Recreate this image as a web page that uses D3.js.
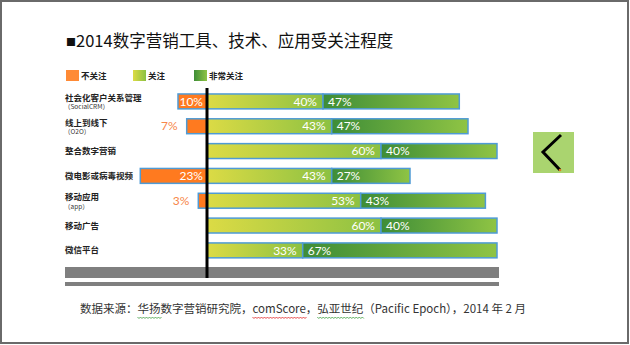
<!DOCTYPE html>
<html><head><meta charset="utf-8">
<script src="https://cdn.jsdelivr.net/npm/d3@7/dist/d3.min.js"></script>
<style>body{margin:0;background:#fff}svg{display:block}</style>
</head><body>
<svg id="c" width="630" height="345"></svg>
<script>
const categories = ["社会化客户关系管理","线上到线下","整合数字营销","微电影或病毒视频","移动应用","移动广告","微信平台"];
const subLabels = ["（SocialCRM）","（O2O）","","","（app）","",""];
const notCare = [10,7,0,23,3,0,0];
const care = [40,43,60,43,53,60,33];
const veryCare = [47,47,40,27,43,40,67];
const legendLabels = ["不关注","关注","非常关注"];
const titleMark = "■";
const title = "2014数字营销工具、技术、应用受关注程度";
const source = "数据来源：华扬数字营销研究院，comScore，弘亚世纪（Pacific Epoch），2014 年 2 月";

const svg = d3.select("#c");
const CJK = "'Noto Sans CJK SC','Noto Sans',sans-serif";
const NUM = "Lato,'Open Sans',sans-serif";

const defs = svg.append("defs");
function grad(id, c0, c1){
  const g = defs.append("linearGradient").attr("id", id).attr("x1","0%").attr("x2","100%").attr("y1","0%").attr("y2","0%");
  g.append("stop").attr("offset","0%").attr("stop-color",c0);
  g.append("stop").attr("offset","100%").attr("stop-color",c1);
}
grad("gCare", "#dcdb45", "#8cc142");
grad("gVery", "#3e8d37", "#8fc444");

// frame
svg.append("rect").attr("x",1).attr("y",1).attr("width",627).attr("height",342)
  .attr("fill","none").attr("stroke","#6a6a6a").attr("stroke-width",2);

// title
const tt = svg.append("text").attr("x",66).attr("y",47).attr("font-family",CJK).attr("font-size",16.5).attr("fill","#111");
tt.append("tspan").attr("font-size",10).attr("dy",-1).text(titleMark);
tt.append("tspan").attr("dy",1).text(title);

const x = d3.scaleLinear().domain([0,100]).range([207,497]);
const y = d3.scaleBand().domain(categories).range([89,262.8]).paddingInner(0.4).paddingOuter(0.2);
const bw = y.bandwidth();

// legend
const legX = [66,133,194];
const legFill = ["#ff8a35","url(#gCare)","url(#gVery)"];
legendLabels.forEach((t,i)=>{
  svg.append("rect").attr("x",legX[i]).attr("y",70).attr("width",13).attr("height",11).attr("fill",legFill[i]);
  svg.append("text").attr("x",legX[i]+15).attr("y",78.5).attr("font-family",CJK).attr("font-size",8.5)
    .attr("font-weight","bold").attr("fill","#222").text(t);
});

const stroke = "#4f9bd5";
const rows = svg.append("g");
categories.forEach((c,i)=>{
  const y0 = y(c), yc = y0 + bw/2;
  if (subLabels[i]) {
    rows.append("text").attr("x",65).attr("y",yc-0.5).attr("font-family",CJK).attr("font-size",8.5)
      .attr("font-weight","bold").attr("fill","#222").text(c);
    rows.append("text").attr("x",64).attr("y",yc+8).attr("font-family",CJK).attr("font-size",6.5)
      .attr("fill","#333").text(subLabels[i]);
  } else {
    rows.append("text").attr("x",65).attr("y",yc+3).attr("font-family",CJK).attr("font-size",8.5)
      .attr("font-weight","bold").attr("fill","#222").text(c);
  }
  if (notCare[i] > 0) {
    rows.append("rect").attr("x",x(-notCare[i])).attr("y",y0).attr("width",x(0)-x(-notCare[i])).attr("height",bw)
      .attr("fill","#ff7a1f").attr("stroke",stroke).attr("stroke-width",1.5);
  }
  rows.append("rect").attr("x",x(0)).attr("y",y0).attr("width",x(care[i])-x(0)).attr("height",bw)
    .attr("fill","url(#gCare)").attr("stroke",stroke).attr("stroke-width",1.5);
  rows.append("rect").attr("x",x(care[i])).attr("y",y0).attr("width",x(care[i]+veryCare[i])-x(care[i])).attr("height",bw)
    .attr("fill","url(#gVery)").attr("stroke",stroke).attr("stroke-width",1.5);
  const vt = (xx, anchor, fill, t) => rows.append("text").attr("x",xx).attr("y",yc+4.2)
    .attr("text-anchor",anchor).attr("font-family",NUM).attr("font-size",12).attr("fill",fill).text(t);
  vt(x(care[i])-6, "end", "#fff", care[i]+"%");
  vt(x(care[i])+5, "start", "#fff", veryCare[i]+"%");
  if (notCare[i] >= 10) vt(x(0)-4, "end", "#fff", notCare[i]+"%");
  else if (notCare[i] > 0) vt(x(-notCare[i])-9, "end", "#f7874a", notCare[i]+"%");
});

// grey base bars
svg.append("rect").attr("x",65).attr("y",267).attr("width",434).attr("height",11).attr("fill","#7f7f7f");
svg.append("rect").attr("x",65).attr("y",282).attr("width",434).attr("height",4).attr("fill","#7f7f7f");

// zero line
svg.append("line").attr("x1",x(0)).attr("x2",x(0)).attr("y1",88).attr("y2",278)
  .attr("stroke","#000").attr("stroke-width",3);

// nav icon
svg.append("rect").attr("x",533).attr("y",132).attr("width",41).attr("height",41).attr("fill","#aad46f");
svg.append("path").attr("d","M561,135 L543,152 L560,170").attr("fill","none").attr("stroke","#000")
  .attr("stroke-width",3).attr("stroke-linejoin","miter");
svg.append("circle").attr("cx",560).attr("cy",170).attr("r",1.3).attr("fill","#e07a20");

// source
const src = svg.append("text").attr("x",80).attr("y",313).attr("font-family",CJK).attr("font-size",11.5)
  .attr("fill","#333").text(source);
const node = src.node();
function squiggle(start, len, color){
  try {
    const p0 = node.getStartPositionOfChar(start).x;
    const w = node.getSubStringLength(start, len);
    let d = "M"+p0+",317";
    for (let xx=p0, k=0; xx < p0+w; xx+=1.5, k++) d += " L"+(xx+1.5)+","+(k%2?317:318.5);
    svg.append("path").attr("d",d).attr("fill","none").attr("stroke",color).attr("stroke-width",0.8);
  } catch(e) {}
}
squiggle(source.indexOf("华扬"), 2, "#3a9a3a");
squiggle(source.indexOf("comScore"), 8, "#e02020");
squiggle(source.indexOf("弘亚世纪"), 4, "#3a9a3a");
</script>
</body></html>
